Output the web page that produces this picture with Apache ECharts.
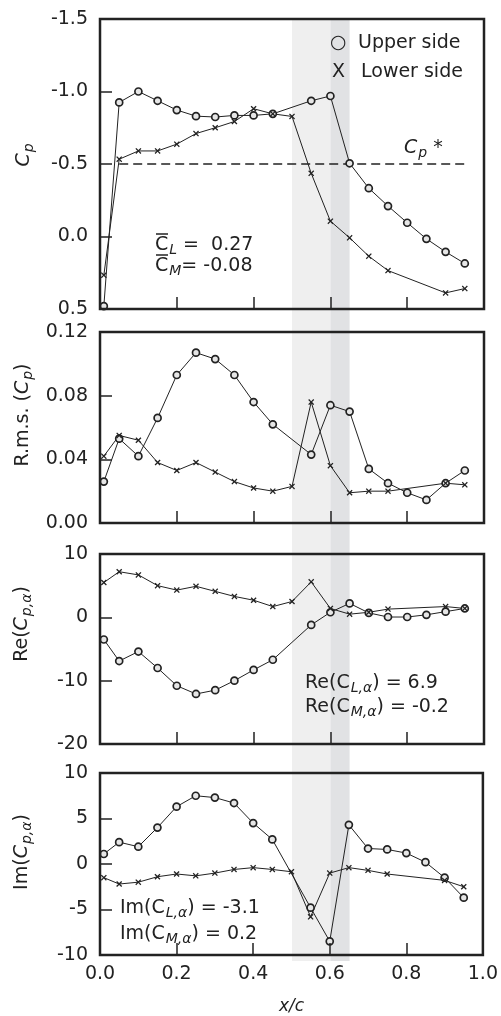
<!DOCTYPE html>
<html>
<head>
<meta charset="utf-8">
<script src="https://cdn.jsdelivr.net/npm/echarts@6/dist/echarts.min.js"></script>
<style>
  html, body { margin: 0; padding: 0; background: #fff; }
  #main { width: 501px; height: 1016px; }
</style>
</head>
<body>
<div id="main"></div>
<script>
// chordwise stations (x/c)
const xUpper = [0.01, 0.05, 0.10, 0.15, 0.20, 0.25, 0.30, 0.35, 0.40, 0.45,
                0.55, 0.60, 0.65, 0.70, 0.75, 0.80, 0.85, 0.90, 0.95]
const xLower = [0.01, 0.05, 0.10, 0.15, 0.20, 0.25, 0.30, 0.35, 0.40, 0.45,
                0.50, 0.55, 0.60, 0.65, 0.70, 0.75, 0.90, 0.95]

// mean Cp
const cpUpper = [0.48, -0.925, -1.0, -0.936, -0.872, -0.83, -0.824, -0.835, -0.835, -0.846,
                 -0.936, -0.969, -0.505, -0.333, -0.21, -0.095, 0.016, 0.106, 0.186]
const cpLower = [0.267, -0.533, -0.59, -0.59, -0.637, -0.71, -0.75, -0.793, -0.881, -0.846,
                 -0.828, -0.436, -0.106, 0.009, 0.136, 0.235, 0.389, 0.359]
const cpStar = [[0.05, -0.5], [0.95, -0.5]]

// r.m.s. of Cp
const rmsUpper = [0.026, 0.053, 0.042, 0.066, 0.093, 0.107, 0.103, 0.093, 0.076, 0.062,
                  0.043, 0.074, 0.070, 0.034, 0.025, 0.019, 0.0145, 0.025, 0.033]
const rmsLower = [0.042, 0.055, 0.052, 0.038, 0.033, 0.038, 0.032, 0.026, 0.022, 0.020,
                  0.023, 0.076, 0.036, 0.019, 0.020, 0.020, 0.025, 0.024]

// real part of Cp,alpha
const reUpper = [-3.5, -6.9, -5.4, -8.0, -10.8, -12.1, -11.5, -10.0, -8.3, -6.7,
                 -1.2, 0.8, 2.2, 0.7, 0.05, 0.05, 0.4, 0.9, 1.4]
const reLower = [5.5, 7.2, 6.7, 5.0, 4.3, 4.9, 4.1, 3.3, 2.7, 1.7,
                 2.5, 5.6, 1.4, 0.5, 0.8, 1.3, 1.7, 1.4]

// imaginary part of Cp,alpha
const imUpper = [1.1, 2.4, 1.9, 4.0, 6.3, 7.5, 7.3, 6.7, 4.5, 2.7,
                 -4.8, -8.5, 4.3, 1.7, 1.6, 1.2, 0.2, -1.5, -3.7]
const imLower = [-1.5, -2.2, -2.0, -1.4, -1.1, -1.3, -1.0, -0.6, -0.4, -0.6,
                 -0.85, -5.8, -1.0, -0.4, -0.7, -1.1, -1.8, -2.5]

// shaded chord bands
const bands = [[0.5, 0.6, '#efefef'], [0.6, 0.65, '#e1e2e4']]

const FONT = 'DejaVu Sans'
const INK = '#222'

const pairs = (xs, ys) => xs.map((x, i) => [x, ys[i]])

const rich = {
  n: { fontFamily: FONT, fontSize: 19, color: INK },
  i: { fontFamily: FONT, fontSize: 19, color: INK, fontStyle: 'italic' },
  s: { fontFamily: FONT, fontSize: 14, color: INK, fontStyle: 'italic', padding: [10, 0, 0, 1] }
}

var chart = echarts.init(document.getElementById('main'), null, { renderer: 'canvas' })

const grids = [
  { left: 100, right: 17, top: 19, height: 290 },
  { left: 100, right: 17, top: 332, height: 191 },
  { left: 100, right: 17, top: 554, height: 190 },
  { left: 100, right: 17, top: 773, height: 188 }
]
const yRanges = [
  { min: -1.5, max: 0.5, interval: 0.5, inverse: true, dec: 1 },
  { min: 0, max: 0.12, interval: 0.04, inverse: false, dec: 2 },
  { min: -20, max: 10, interval: 10, inverse: false, dec: 0 },
  { min: -10, max: 10, interval: 5, inverse: false, dec: 0 }
]
const upperSets = [cpUpper, rmsUpper, reUpper, imUpper]
const lowerSets = [cpLower, rmsLower, reLower, imLower]

const gridOpt = grids.map(g => Object.assign({ show: true, borderColor: INK, borderWidth: 2.5, z: 5 }, g))
gridOpt.push({ left: 100, right: 17, top: 19, height: 942, show: false })

const xAxes = grids.map((g, i) => ({
  type: 'value', gridIndex: i, min: 0, max: 1, interval: 0.2, z: 4,
  axisLine: { show: false, onZero: false },
  splitLine: { show: false },
  axisTick: { inside: true, length: 12, lineStyle: { color: INK, width: 1.5 } },
  axisLabel: {
    show: i === 3, margin: 10, fontFamily: FONT, fontSize: 19, color: INK,
    formatter: v => v.toFixed(1)
  },
  name: i === 3 ? 'x/c' : '', nameLocation: 'middle', nameGap: 43,
  nameTextStyle: { fontFamily: FONT, fontSize: 17, fontStyle: 'italic', color: INK }
}))
xAxes.push({ type: 'value', gridIndex: 4, min: 0, max: 1, show: false })

const yAxes = yRanges.map((r, i) => ({
  type: 'value', gridIndex: i, min: r.min, max: r.max, interval: r.interval, inverse: r.inverse, z: 4,
  axisLine: { show: false, onZero: false },
  splitLine: { show: false },
  axisTick: { inside: true, length: 12, lineStyle: { color: INK, width: 1.5 } },
  axisLabel: {
    margin: 12, fontFamily: FONT, fontSize: 19, color: INK,
    formatter: v => v.toFixed(r.dec)
  }
}))
yAxes.push({ type: 'value', gridIndex: 4, min: 0, max: 1, show: false })

const series = []
series.push({
  type: 'line', xAxisIndex: 4, yAxisIndex: 4, data: [], z: 1, silent: true,
  markArea: {
    silent: true,
    data: bands.map(b => [{ xAxis: b[0], itemStyle: { color: b[2] } }, { xAxis: b[1] }])
  }
})
for (let i = 0; i < 4; i++) {
  series.push({
    name: 'Upper side', type: 'line', xAxisIndex: i, yAxisIndex: i, z: 3,
    data: pairs(xUpper, upperSets[i]),
    symbol: 'circle', symbolSize: 7,
    itemStyle: { color: '#e6e6e6', borderColor: INK, borderWidth: 1.7 },
    lineStyle: { color: INK, width: 1 }
  })
  series.push({
    name: 'Lower side', type: 'line', xAxisIndex: i, yAxisIndex: i, z: 3,
    data: pairs(xLower, lowerSets[i]),
    symbol: 'path://M0,1.5L1.5,0L5,3.5L8.5,0L10,1.5L6.5,5L10,8.5L8.5,10L5,6.5L1.5,10L0,8.5L3.5,5Z',
    symbolSize: 6,
    itemStyle: { color: INK },
    lineStyle: { color: INK, width: 1 }
  })
}
series.push({
  type: 'line', xAxisIndex: 0, yAxisIndex: 0, z: 3, data: cpStar, symbol: 'none',
  lineStyle: { color: INK, width: 1.5, type: [9, 5] }
})

const txt = (x, y, text, extra) => ({
  type: 'text', x: x, y: y, z: 10,
  style: Object.assign({ text: text, rich: rich, fill: INK, font: '19px "DejaVu Sans"', verticalAlign: 'middle', align: 'left' }, extra || {})
})
const vtxt = (x, y, text) => ({
  type: 'text', x: x, y: y, z: 10, rotation: Math.PI / 2,
  style: { text: text, rich: rich, fill: INK, font: '19px "DejaVu Sans"', align: 'center', verticalAlign: 'middle' }
})
// overbar for the mean-coefficient symbols
const bar = (x, y) => ({
  type: 'line', z: 10, shape: { x1: x, y1: y, x2: x + 12, y2: y },
  style: { stroke: INK, lineWidth: 1.5 }
})

const graphics = [
  vtxt(24, 155, '{i|C}{s|p}'),
  vtxt(23, 415, '{n|R.m.s. (}{i|C}{s|p}{n|)}'),
  vtxt(22, 624, '{n|Re(}{i|C}{s|p,α}{n|)}'),
  vtxt(22, 852, '{n|Im(}{i|C}{s|p,α}{n|)}'),
  txt(330, 43, '{n|○}'),
  txt(358, 43, '{n|Upper side}'),
  txt(332, 72, '{n|X}'),
  txt(361, 72, '{n|Lower side}'),
  txt(404, 148, '{i|C}{s|p}{n| *}'),
  txt(155, 245, '{n|C}{s|L}{n| =  0.27}'),
  txt(155, 266, '{n|C}{s|M}{n|= -0.08}'),
  bar(156, 234),
  bar(156, 255),
  txt(305, 683, '{n|Re(C}{s|L,α}{n|) = 6.9}'),
  txt(305, 707, '{n|Re(C}{s|M,α}{n|) = -0.2}'),
  txt(120, 908, '{n|Im(C}{s|L,α}{n|) = -3.1}'),
  txt(120, 934, '{n|Im(C}{s|M,α}{n|) = 0.2}')
]

const option = {
  animation: false,
  backgroundColor: '#fff',
  textStyle: { fontFamily: FONT },
  grid: gridOpt,
  xAxis: xAxes,
  yAxis: yAxes,
  series: series,
  graphic: graphics
}
chart.setOption(option)
</script>
</body>
</html>
